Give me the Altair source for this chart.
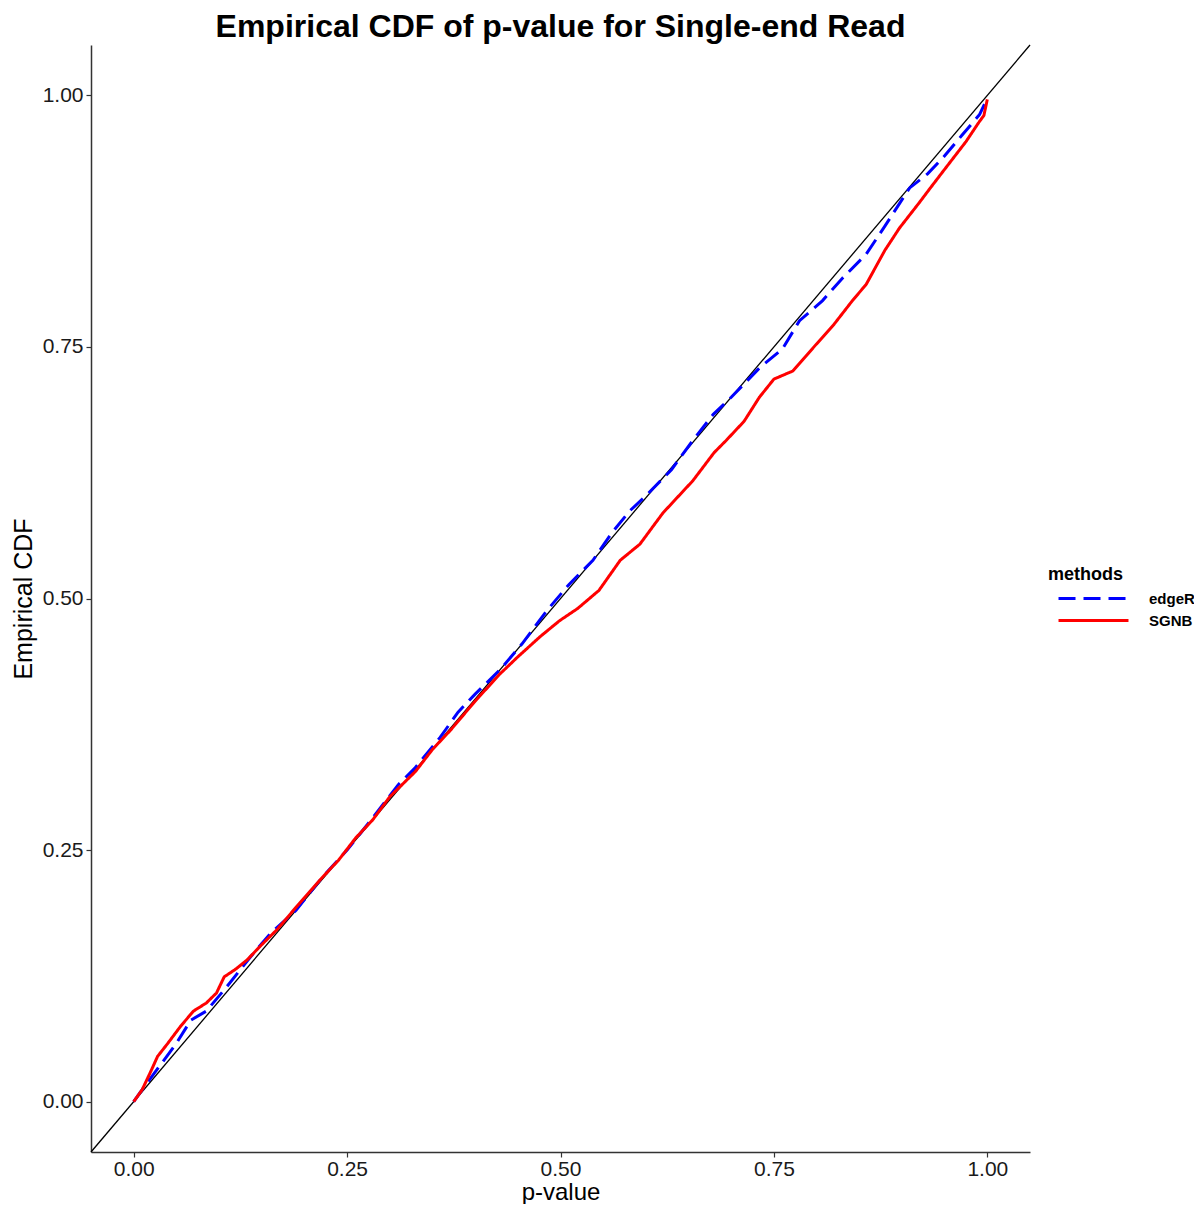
import altair as alt
import pandas as pd

# ---- data ----
methods = ["edgeR", "SGNB"]

sgnb_x = [0.000, 0.010, 0.020, 0.028, 0.040, 0.055, 0.070, 0.085, 0.097, 0.106,
          0.120, 0.133, 0.150, 0.168, 0.190, 0.219, 0.240, 0.260, 0.280, 0.300,
          0.312, 0.330, 0.350, 0.371, 0.400, 0.429, 0.450, 0.476, 0.499, 0.520,
          0.545, 0.570, 0.593, 0.620, 0.655, 0.680, 0.694, 0.715, 0.733, 0.750,
          0.772, 0.800, 0.820, 0.842, 0.858, 0.880, 0.897, 0.920, 0.936, 0.955,
          0.975, 0.990, 0.996, 1.000]
sgnb_y = [0.000, 0.012, 0.030, 0.045, 0.058, 0.075, 0.090, 0.098, 0.108, 0.124,
          0.132, 0.141, 0.156, 0.171, 0.193, 0.221, 0.240, 0.262, 0.280, 0.303,
          0.313, 0.328, 0.350, 0.369, 0.398, 0.425, 0.442, 0.462, 0.478, 0.490,
          0.508, 0.538, 0.554, 0.585, 0.617, 0.645, 0.657, 0.676, 0.700, 0.718,
          0.726, 0.753, 0.772, 0.796, 0.812, 0.846, 0.868, 0.893, 0.911, 0.932,
          0.954, 0.973, 0.980, 0.996]

edger_x = [0.000, 0.010, 0.030, 0.050, 0.067, 0.085, 0.106, 0.137, 0.160, 0.190,
           0.220, 0.250, 0.280, 0.310, 0.330, 0.359, 0.380, 0.400, 0.429, 0.455,
           0.484, 0.510, 0.538, 0.560, 0.581, 0.600, 0.630, 0.655, 0.679, 0.700,
           0.733, 0.760, 0.780, 0.807, 0.830, 0.858, 0.880, 0.909, 0.930, 0.948,
           0.970, 0.991, 1.000]
edger_y = [0.000, 0.012, 0.035, 0.058, 0.081, 0.090, 0.111, 0.144, 0.167, 0.190,
           0.222, 0.250, 0.282, 0.315, 0.332, 0.362, 0.387, 0.405, 0.429, 0.455,
           0.488, 0.514, 0.538, 0.565, 0.587, 0.602, 0.628, 0.657, 0.683, 0.700,
           0.729, 0.748, 0.776, 0.796, 0.818, 0.842, 0.870, 0.908, 0.922, 0.938,
           0.960, 0.981, 0.997]

abline_x = [-0.05, 1.05]
abline_y = [-0.05, 1.05]

tick_values = [0.0, 0.25, 0.5, 0.75, 1.0]

# ---- tables ----
df_e = pd.DataFrame({"x": edger_x, "y": edger_y, "method": "edgeR"})
df_e["order"] = range(len(df_e))
df_s = pd.DataFrame({"x": sgnb_x, "y": sgnb_y, "method": "SGNB"})
df_s["order"] = range(len(df_s))
df = pd.concat([df_e, df_s], ignore_index=True)
df_ab = pd.DataFrame({"x": abline_x, "y": abline_y})

FONT = "Liberation Sans"

x_scale = alt.Scale(domain=[-0.05, 1.05], nice=False, zero=False)
y_scale = alt.Scale(domain=[-0.05, 1.05], nice=False, zero=False)

x_axis = alt.Axis(values=tick_values, format=".2f", title="p-value",
                  titlePadding=1, labelPadding=1, titleFontSize=24)
y_axis = alt.Axis(values=tick_values, format=".2f", title="Empirical CDF",
                  titlePadding=6, labelPadding=3)

abline = alt.Chart(df_ab).mark_line(color="black", strokeWidth=1.3).encode(
    x=alt.X("x:Q", scale=x_scale, axis=x_axis),
    y=alt.Y("y:Q", scale=y_scale, axis=y_axis),
)

legend = alt.Legend(
    title="methods", orient="none", legendX=957, legendY=521,
    symbolType="M-3,0H3", symbolSize=544, symbolStrokeWidth=3,
    symbolOffset=32, labelOffset=42, rowPadding=0, titlePadding=1,
)

lines = alt.Chart(df).mark_line(strokeWidth=3).encode(
    x=alt.X("x:Q", scale=x_scale, axis=x_axis),
    y=alt.Y("y:Q", scale=y_scale, axis=y_axis),
    color=alt.Color("method:N",
                    scale=alt.Scale(domain=methods, range=["#0000FF", "#FF0000"]),
                    legend=legend),
    strokeDash=alt.StrokeDash("method:N",
                              scale=alt.Scale(domain=methods, range=[[17, 8], [1, 0]]),
                              legend=legend),
    order="order:Q",
)

chart = alt.layer(abline, lines).properties(
    width=939, height=1107,
    title=alt.TitleParams("Empirical CDF of p-value for Single-end Read",
                          anchor="middle", fontSize=32, fontWeight="bold",
                          font=FONT, color="black", offset=-2),
    autosize=alt.AutoSizeParams(type="none"),
    padding={"left": 83, "top": 37, "right": 164, "bottom": 52},
).configure_view(stroke=None).configure_axis(
    grid=False, domainColor="#333333", domainWidth=1.5,
    tickColor="#333333", tickWidth=1.2, tickSize=5,
    labelFont=FONT, labelFontSize=21, labelColor="#1a1a1a",
    titleFont=FONT, titleFontSize=25, titleFontWeight="normal", titleColor="black",
).configure_legend(
    titleFont=FONT, titleFontSize=18, titleFontWeight="bold", titleColor="black",
    labelFont=FONT, labelFontSize=15, labelFontWeight="bold", labelColor="black",
)

chart.save("out.html", embed_options={"renderer": "svg", "actions": False})
